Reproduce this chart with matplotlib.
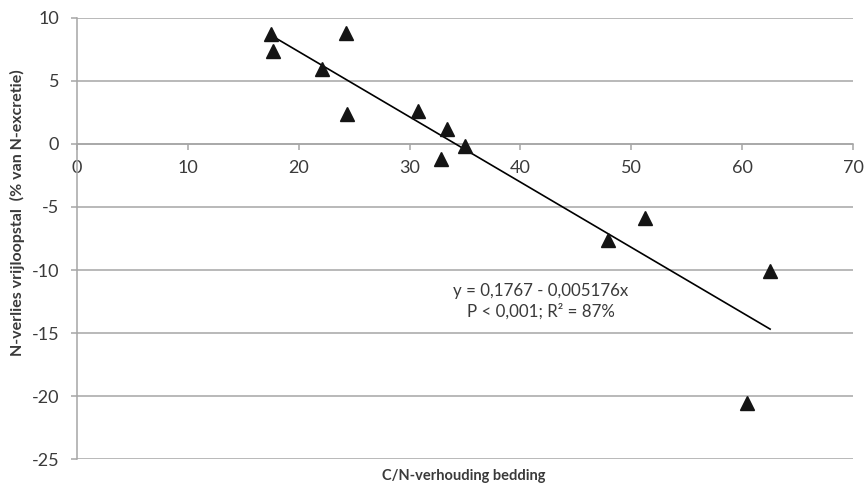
import matplotlib.pyplot as plt
import numpy as np

plt.rcParams['font.family'] = ['Lato', 'DejaVu Sans']
plt.rcParams['axes.unicode_minus'] = False

# C/N ratio of the bedding vs. N loss (% of N excretion)
cn_ratio = [17.5, 17.7, 22.1, 24.3, 24.4, 30.8, 33.4, 32.8, 35.0, 47.9, 51.2, 62.5, 60.4]
n_loss = [8.7, 7.4, 5.9, 8.8, 2.4, 2.6, 1.2, -1.2, -0.2, -7.6, -5.9, -10.1, -20.5]

# fitted regression (fractions), shown in percent
intercept = 0.1767
slope = -0.005176
fit_label = 'y = 0,1767 - 0,005176x\nP < 0,001; R\u00b2 = 87%'

text_col = '#3a3a3a'
grid_col = '#a6a6a6'

fig = plt.figure(figsize=(8.65, 4.88), dpi=100)
ax = fig.add_axes([0.0887, 0.0588, 0.8978, 0.9049])

ax.set_xlim(0, 70)
ax.set_ylim(-25, 10)
ax.set_xticks(np.arange(0, 71, 10))
ax.set_yticks(np.arange(-25, 11, 5))

ax.yaxis.grid(True, color=grid_col, linewidth=1.1)
ax.set_axisbelow(True)

for side in ['top', 'right']:
    ax.spines[side].set_visible(False)
ax.spines['bottom'].set_position(('data', 0))
ax.spines['bottom'].set_color(grid_col)
ax.spines['left'].set_color(grid_col)
ax.spines['bottom'].set_linewidth(1.1)
ax.spines['left'].set_linewidth(1.1)

ax.tick_params(axis='both', colors=grid_col, labelcolor=text_col,
               labelsize=13, length=4.5, width=1.1)
ax.tick_params(axis='x', pad=7)
ax.tick_params(axis='y', pad=8)

xs = np.array([min(cn_ratio), max(cn_ratio)])
ax.plot(xs, (intercept + slope * xs) * 100, color='black', linewidth=1.2, zorder=3)
ax.plot(cn_ratio, n_loss, linestyle='none', marker='^', markersize=10,
        color='#141414', zorder=4)

ax.text(41.8, -12.5, fit_label, ha='center', va='center', fontsize=12.2,
        color=text_col, linespacing=1.3)

fig.text(464 / 865, 1 - 476 / 488, 'C/N-verhouding bedding', ha='center',
         va='center', fontsize=10.5, fontweight='bold', color=text_col)
fig.text(17 / 865, 1 - 213 / 488, 'N-verlies vrijloopstal  (% van N-excretie)',
         ha='center', va='center', rotation=90, fontsize=11.5,
         fontweight='bold', color=text_col)

fig.savefig('out.png', dpi=100)
